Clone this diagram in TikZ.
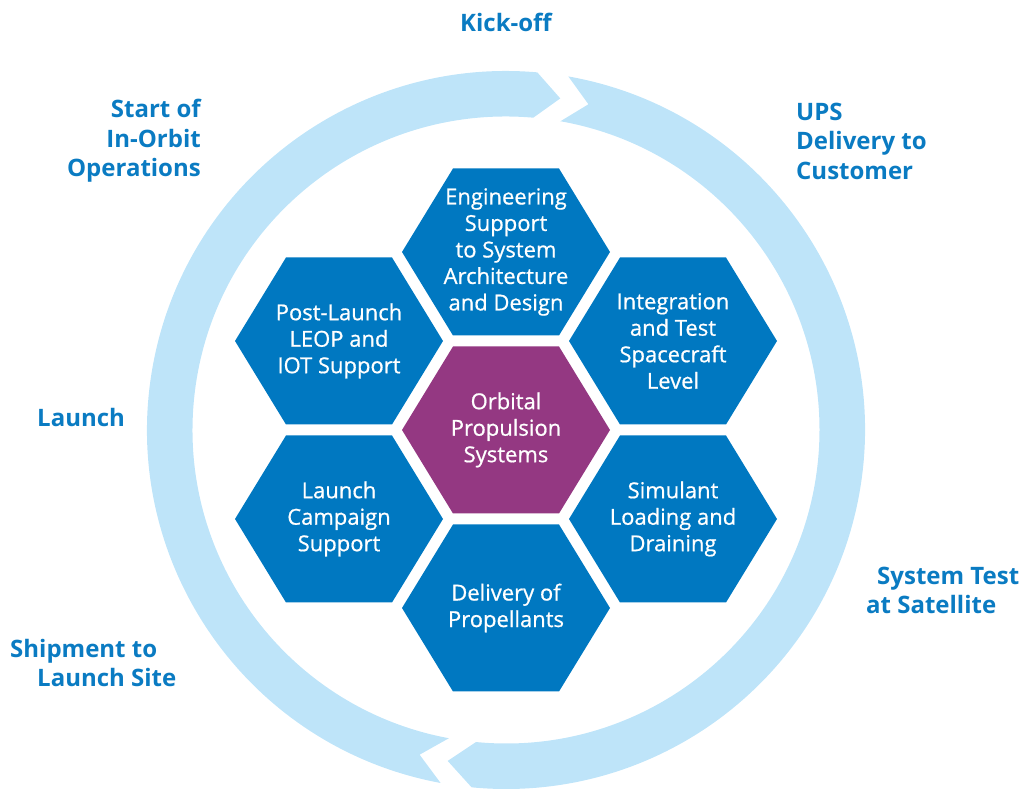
\documentclass[tikz,border=0pt]{standalone}
\usepackage{fontspec}
\setmainfont{Open Sans}
\newfontfamily\hexfont{Open Sans}[FakeBold=0.7]
\usetikzlibrary{positioning}

\definecolor{hexblue}{RGB}{0,120,193}
\definecolor{hexpurple}{RGB}{148,56,130}
\definecolor{ringblue}{RGB}{190,228,249}
\definecolor{labelblue}{RGB}{10,123,194}

\tikzset{
  hexa/.style={minimum width=208pt, minimum height=167pt, inner sep=0pt,
    text=white, align=center, font=\hexfont\fontsize{22}{26.5}\selectfont,
    path picture={\fill[#1] (path picture bounding box.west)
      -- ++(51pt,83.5pt) -- ++(106pt,0pt) -- ++(51pt,-83.5pt)
      -- ++(-51pt,-83.5pt) -- ++(-106pt,0pt) -- cycle;}},
  hexa/.default=hexblue,
  stage/.style={text=labelblue, inner sep=0pt, align=left,
    font=\fontsize{24}{29.5}\selectfont\bfseries},
  loop arc/.style={fill=ringblue}
}

\begin{document}
\begin{tikzpicture}[x=1pt, y=1pt, on grid, node distance=178pt]
  \useasboundingbox (0,0) rectangle (1029,790);

  % ring of two arrows
  \begin{scope}[shift={(506,360)}]
    \fill[loop arc] (80:359) arc[start angle=80, end angle=-95.5, radius=359]
      -- (-100:336) -- (-95.5:313.5) arc[start angle=-95.5, end angle=80, radius=313.5]
      -- (75.8:336) -- cycle;
    \fill[loop arc] (259.5:359) arc[start angle=259.5, end angle=85, radius=359]
      -- (80.7:336) -- (85:313.5) arc[start angle=85, end angle=259.5, radius=313.5]
      -- (255.1:336) -- cycle;
  \end{scope}

  % honeycomb
  \node[hexa=hexpurple] (core) at (506,360) {Orbital\\Propulsion\\Systems};
  \node[hexa] (engineering) [above=of core] {Engineering\\Support\\to System\\Architecture\\and Design};
  \node[hexa] (propellants) [below=of core] {Delivery of\\Propellants};
  \node[hexa] (postlaunch)  [above left=89pt and 167pt of core] {Post-Launch\\LEOP and\\IOT Support};
  \node[hexa] (campaign)    [below left=89pt and 167pt of core] {Launch\\Campaign\\Support};
  \node[hexa] (integration) [above right=89pt and 167pt of core] {Integration\\and Test\\Spacecraft\\Level};
  \node[hexa] (simulant)    [below right=89pt and 167pt of core] {Simulant\\Loading and\\Draining};

  % milestones
  \node[stage] (kickoff)  at (506,768) {Kick-off};
  \node[stage, anchor=east, align=right] (inorbit) at (201,649) {Start of\\In-Orbit\\Operations};
  \node[stage, anchor=west] (ups)      at (796,649) {UPS\\Delivery to\\Customer};
  \node[stage, anchor=west] (launch)   at (37,372)  {Launch};
  \node[stage, anchor=west] (shipment) at (10,127)  {Shipment to\\\hspace*{27pt}Launch Site};
  \node[stage, anchor=west] (systest)  at (866,199.5) {\hspace*{11pt}System Test\\at Satellite};
\end{tikzpicture}
\end{document}
